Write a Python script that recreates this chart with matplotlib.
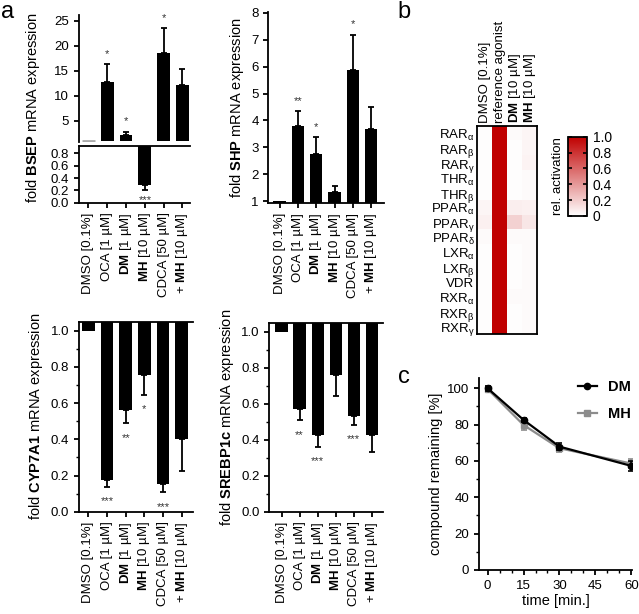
"""
Figure: BSEP/SHP/CYP7A1/SREBP1c expression bars (a), nuclear receptor
selectivity heatmap (b) and microsomal stability (c).
"""
import numpy as np
import matplotlib; matplotlib.use("Agg")
import matplotlib.pyplot as plt
from matplotlib.colors import LinearSegmentedColormap
from matplotlib.ticker import MultipleLocator

plt.rcParams.update({
    "font.family": ["Liberation Sans", "DejaVu Sans"],
    "mathtext.fontset": "custom",
    "mathtext.rm": "Liberation Sans",
    "mathtext.it": "Liberation Sans:italic",
    "mathtext.bf": "Liberation Sans:bold",
    "font.size": 9.5,
    "axes.linewidth": 1.3,
    "xtick.major.width": 1.3, "ytick.major.width": 1.3,
    "xtick.minor.width": 1.0, "ytick.minor.width": 1.0,
    "xtick.major.size": 3.5, "ytick.major.size": 3.5,
    "xtick.minor.size": 2.0, "ytick.minor.size": 2.0,
    "xtick.labelsize": 9.5, "ytick.labelsize": 9.5,
})

# ---- data -----------------------------------------------------------------
treatments = ["DMSO [0.1%]", "OCA [1 µM]", r"$\bf{DM}$ [1 µM]",
              r"$\bf{MH}$ [10 µM]", "CDCA [50 µM]", r"+ $\bf{MH}$ [10 µM]"]

bsep_mean = [1.0, 12.8, 2.1, 0.29, 18.5, 12.1]
bsep_err = [0.0, 3.5, 0.7, 0.08, 5.0, 3.2]
bsep_sig = ["", "*", "*", "***", "*", ""]

shp_mean = [1.0, 3.80, 2.75, 1.35, 5.87, 3.69]
shp_err = [0.0, 0.55, 0.63, 0.20, 1.32, 0.80]
shp_sig = ["", "**", "*", "", "*", ""]

cyp_mean = [1.0, 0.175, 0.562, 0.755, 0.151, 0.40]
cyp_err = [0.0, 0.037, 0.072, 0.11, 0.044, 0.173]
cyp_sig = ["", "***", "**", "*", "***", ""]

srebp_mean = [1.0, 0.571, 0.428, 0.762, 0.533, 0.428]
srebp_err = [0.0, 0.064, 0.066, 0.121, 0.05, 0.094]
srebp_sig = ["", "**", "***", "", "***", ""]

receptors = ["RAR$_\\mathrm{α}$", "RAR$_\\mathrm{β}$", "RAR$_\\mathrm{γ}$",
             "THR$_\\mathrm{α}$", "THR$_\\mathrm{β}$",
             "PPAR$_\\mathrm{α}$", "PPAR$_\\mathrm{γ}$", "PPAR$_\\mathrm{δ}$",
             "LXR$_\\mathrm{α}$", "LXR$_\\mathrm{β}$", "VDR",
             "RXR$_\\mathrm{α}$", "RXR$_\\mathrm{β}$", "RXR$_\\mathrm{γ}$"]
hm_cols = ["DMSO [0.1%]", "reference agonist", r"$\bf{DM}$ [10 µM]", r"$\bf{MH}$ [10 µM]"]
act_dmso = [0.01, 0.01, 0.01, 0.01, 0.01, 0.04, 0.06, 0.02, 0.01, 0.01, 0.01, 0.01, 0.01, 0.01]
act_ref = [1.0] * 14
act_dm = [0.02, 0.01, 0.01, 0.01, 0.01, 0.07, 0.18, 0.02, 0.01, 0.01, 0.01, 0.02, 0.01, 0.01]
act_mh = [0.04, 0.04, 0.05, 0.02, 0.02, 0.06, 0.10, 0.02, 0.02, 0.02, 0.02, 0.02, 0.02, 0.02]

time_min = [0, 15, 30, 60]
dm_rem = [100.0, 82.6, 67.9, 57.3]
dm_err = [1.5, 1.2, 1.8, 2.6]
mh_rem = [99.6, 79.8, 67.0, 58.6]
mh_err = [1.8, 2.7, 1.8, 2.4]

# ---- layout helpers -------------------------------------------------------
W, H = 639, 614
fig = plt.figure(figsize=(W / 100, H / 100), dpi=100)


def pax(x0, y0, x1, y1):
    """axes from pixel box (top-left origin)"""
    return fig.add_axes([x0 / W, 1 - y1 / H, (x1 - x0) / W, (y1 - y0) / H])


def spines(ax, keep):
    for s in ["left", "right", "top", "bottom"]:
        ax.spines[s].set_visible(s in keep)


def star(ax, x, y, s, up, down_off=-10.5):
    if s:
        ax.annotate(s, (x, y), xytext=(0, 7.5 if up else down_off), textcoords="offset points",
                    ha="center", va="center", fontsize=8, color="#333333", annotation_clip=False)


def bars_from(ax, means, errs, sigs, base, up=None):
    """bars drawn from a baseline; error bar on the far side of the baseline"""
    x = np.arange(len(means))
    for i, (m, e, s) in enumerate(zip(means, errs, sigs)):
        goes_up = m >= base if up is None else up
        ax.bar(i, m - base, bottom=base, width=0.68, color="black", zorder=2)
        if e > 0:
            yerr = [[0], [e]] if goes_up else [[e], [0]]
            ax.errorbar(i, m, yerr=yerr, fmt="none", ecolor="black", elinewidth=1.3,
                        capsize=2.5, capthick=1.3, zorder=3)
        star(ax, i, m + e if goes_up else m - e, s, goes_up)
    ax.set_xticks(x)


def xlabels(ax):
    ax.set_xticklabels(treatments, rotation=90, ha="center", va="top")


# ---- a: BSEP (broken axis) -----------------------------------------------
ax_bu = pax(79, 15, 190, 141.7)
ax_bl = pax(79, 146, 190, 202.7)
xi = np.arange(len(bsep_mean))
for i, (m, e, s) in enumerate(zip(bsep_mean, bsep_err, bsep_sig)):
    if m > 1:
        ax_bu.bar(i, m - 1, bottom=1, width=0.68, color="black", zorder=2)
        ax_bu.errorbar(i, m, yerr=[[0], [e]], fmt="none", ecolor="black", elinewidth=1.3,
                       capsize=2.5, capthick=1.3, zorder=3)
        star(ax_bu, i, m + e, s, True)
    elif m < 1:
        ax_bl.bar(i, m - 1, bottom=1, width=0.68, color="black", zorder=2)
        ax_bl.errorbar(i, m, yerr=[[e], [0]], fmt="none", ecolor="black", elinewidth=1.3,
                       capsize=2.5, capthick=1.3, zorder=3)
        star(ax_bl, i, m - e, s, False, down_off=-7.5)
    else:
        ax_bu.hlines(m, i - 0.34, i + 0.34, color="#aaaaaa", lw=2, zorder=2)
ax_bu.set_ylim(0.8, 26.1)
ax_bu.set_yticks([5, 10, 15, 20, 25])
ax_bu.set_xticks([])
spines(ax_bu, ["left"])
ax_bl.set_ylim(0, 0.92)
ax_bl.set_yticks([0.0, 0.2, 0.4, 0.6, 0.8])
ax_bl.set_yticklabels(["0.0", "0.2", "0.4", "0.6", "0.8"])
ax_bl.set_xticks(xi)
xlabels(ax_bl)
spines(ax_bl, ["left", "bottom", "top"])
for a in (ax_bu, ax_bl):
    a.set_xlim(-0.5, 5.4)
fig.text(33 / W, 1 - 108 / H, r"fold $\bf{BSEP}$ mRNA expression", rotation=90,
         ha="center", va="center", fontsize=10.5)

# ---- a: SHP ---------------------------------------------------------------
ax_s = pax(268.3, 12.3, 384, 203)
bars_from(ax_s, shp_mean, shp_err, shp_sig, base=0.93, up=True)
ax_s.set_ylim(0.93, 8.02)
ax_s.set_xlim(-0.62, 5.7)
ax_s.set_yticks(range(1, 9))
xlabels(ax_s)
spines(ax_s, ["left", "bottom"])
ax_s.set_ylabel(r"fold $\bf{SHP}$ mRNA expression", fontsize=10.5, labelpad=4)

# ---- a: CYP7A1 / SREBP1c (bars hang from top) ------------------------------
for box, means, errs, sigs, name in [
        ((79, 321.7, 193, 511.7), cyp_mean, cyp_err, cyp_sig, "CYP7A1"),
        ((269.3, 322.7, 383, 511.7), srebp_mean, srebp_err, srebp_sig, "SREBP1c")]:
    ax = pax(*box)
    bars_from(ax, means, errs, sigs, base=1.05, up=False)
    ax.set_ylim(0, 1.05)
    ax.set_xlim(-0.5, 5.6) if name == "CYP7A1" else ax.set_xlim(-0.68, 5.62)
    ax.set_yticks([0, 0.2, 0.4, 0.6, 0.8, 1.0])
    ax.set_yticklabels(["0.0", "0.2", "0.4", "0.6", "0.8", "1.0"])
    ax.yaxis.set_minor_locator(MultipleLocator(0.1))
    xlabels(ax)
    spines(ax, ["left", "bottom", "top"])
    ax.tick_params(top=False)
    ax.set_ylabel(r"fold $\bf{%s}$ mRNA expression" % name, fontsize=10.5, labelpad=4)

# ---- b: heatmap -------------------------------------------------------------
cmap = LinearSegmentedColormap.from_list("wr", ["#ffffff", "#c00000"])
act = np.column_stack([act_dmso, act_ref, act_dm, act_mh])
ax_h = pax(477.3, 126, 537.3, 334.3)
im = ax_h.imshow(act, cmap=cmap, vmin=0, vmax=1, aspect="auto", interpolation="nearest")
ax_h.set_yticks(range(len(receptors)))
ax_h.set_yticklabels(receptors, fontsize=9.5)
ax_h.set_xticks(range(len(hm_cols)))
ax_h.set_xticklabels(hm_cols, rotation=90, ha="center", va="bottom", fontsize=9.5)
ax_h.xaxis.set_ticks_position("top")
ax_h.tick_params(length=0, pad=2)
for s in ax_h.spines.values():
    s.set_linewidth(1.3)

cax = pax(568.3, 136.7, 587.3, 216)
cb = fig.colorbar(im, cax=cax)
cb.set_ticks([0, 0.2, 0.4, 0.6, 0.8, 1.0])
cb.set_ticklabels(["0", "0.2", "0.4", "0.6", "0.8", "1.0"])
cb.outline.set_linewidth(1.3)
cax.tick_params(direction="in", left=True, right=True, length=3, width=1.2, labelsize=10, pad=4)
cax.yaxis.set_label_position("left")
cb.set_label("rel. activation", fontsize=9.5, labelpad=3)

# ---- c: stability -----------------------------------------------------------
ax_c = pax(479, 378.3, 632, 570)
ax_c.errorbar(time_min, mh_rem, yerr=mh_err, fmt="none", ecolor="#8c8c8c", elinewidth=1.2,
              capsize=2.5, capthick=1.2, zorder=2)
ln_mh, = ax_c.plot(time_min, mh_rem, color="#8c8c8c", marker="s", ms=4.5, lw=1.6, zorder=2)
ax_c.errorbar(time_min, dm_rem, yerr=dm_err, fmt="none", ecolor="black", elinewidth=1.2,
              capsize=2.5, capthick=1.2, zorder=3)
ln_dm, = ax_c.plot(time_min, dm_rem, color="black", marker="o", ms=4.5, lw=1.6, zorder=3)
ax_c.set_xlim(-3.6, 60.3)
ax_c.set_ylim(0, 105.5)
ax_c.set_xticks([0, 15, 30, 45, 60])
ax_c.xaxis.set_minor_locator(MultipleLocator(5))
ax_c.set_yticks(range(0, 101, 20))
ax_c.yaxis.set_minor_locator(MultipleLocator(10))
spines(ax_c, ["left", "bottom"])
ax_c.set_xlabel("time [min.]", fontsize=10.5, labelpad=2)
ax_c.set_ylabel("compound remaining [%]", fontsize=10.5, labelpad=3)
leg = ax_c.legend([ln_dm, ln_mh], ["DM", "MH"], loc="upper left", bbox_to_anchor=(0.56, 1.06),
                  frameon=False, handlelength=1.3, labelspacing=0.9,
                  prop={"weight": "bold", "size": 10.5})

# ---- panel letters ----------------------------------------------------------
for x, y, t in [(8, 12, "a"), (404, 12, "b"), (404, 377, "c")]:
    fig.text(x / W, 1 - y / H, t, fontsize=17, ha="center", va="center")

fig.savefig("out.png", dpi=100)
plt.close(fig)
